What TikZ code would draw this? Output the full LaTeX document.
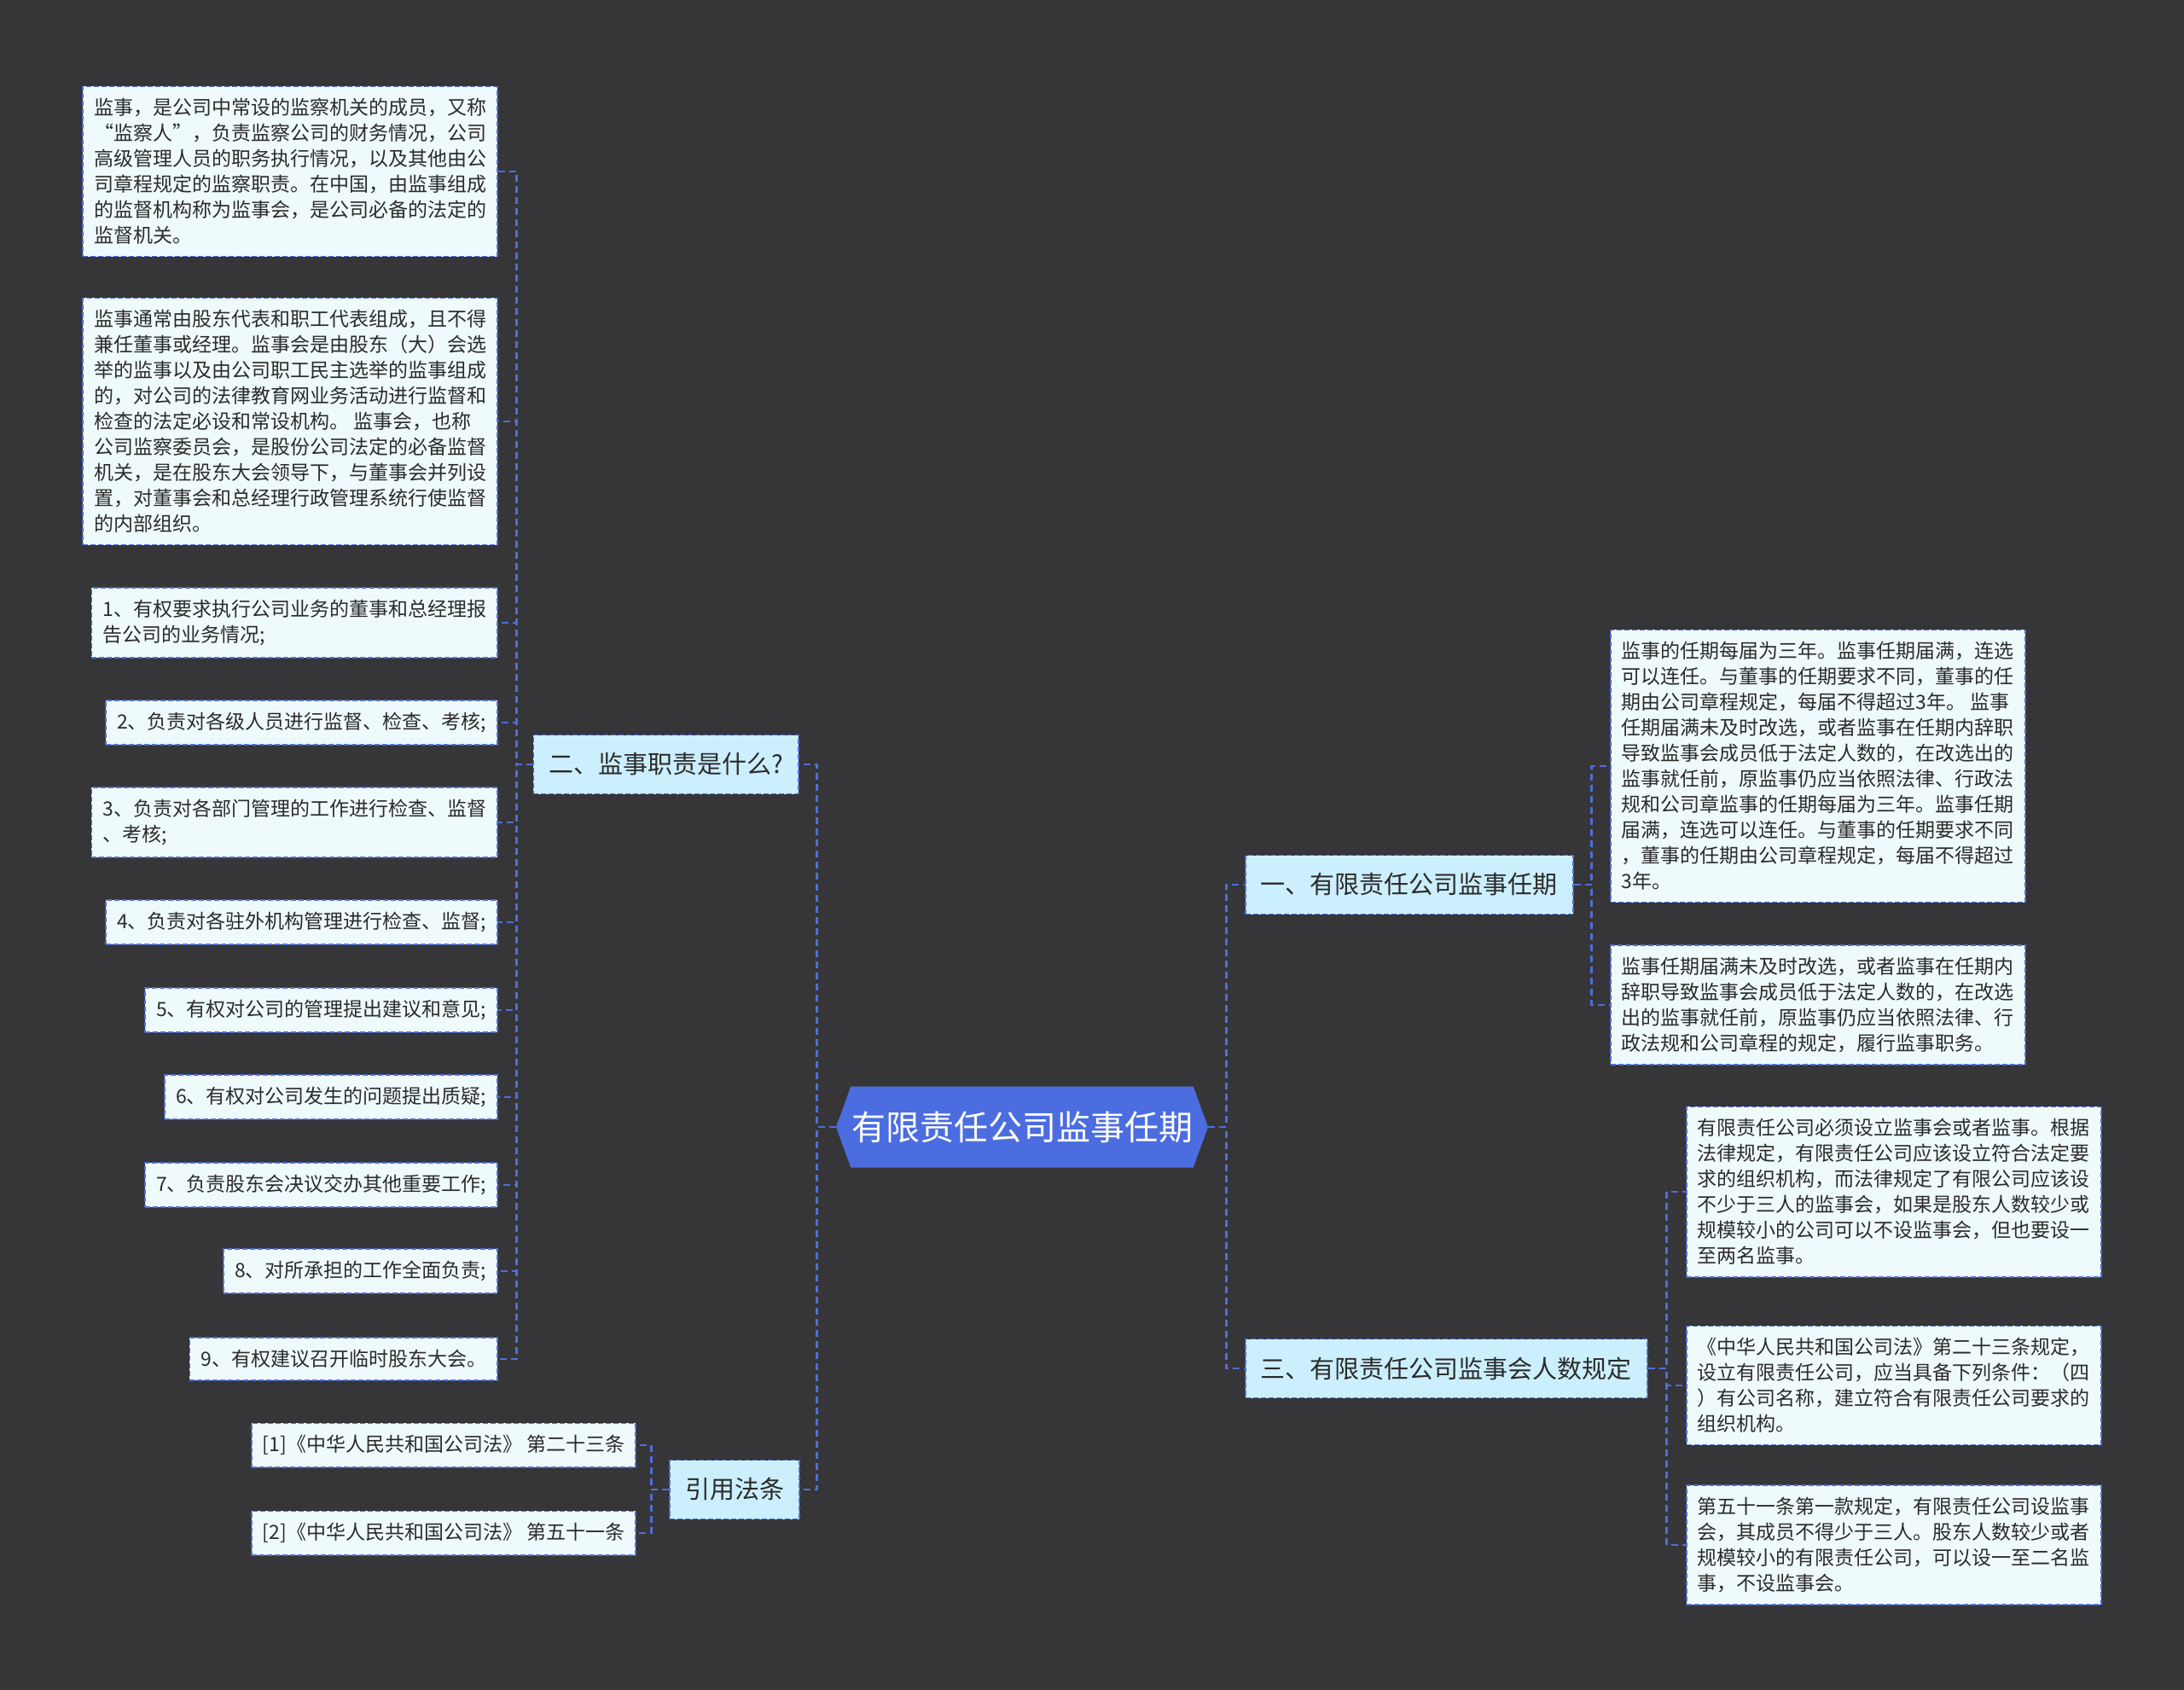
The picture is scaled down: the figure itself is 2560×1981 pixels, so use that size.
\documentclass[tikz,border=0pt]{standalone}
\usepackage{fontspec}
\setmainfont{Noto Sans CJK SC}
\usetikzlibrary{shapes.symbols}

\definecolor{bgdark}{HTML}{363538}
\definecolor{linkblue}{HTML}{4E6FD8}
\definecolor{rootblue}{HTML}{4B6DE0}
\definecolor{branchfill}{HTML}{CCEFFD}
\definecolor{leaffill}{HTML}{EFFAFD}
\definecolor{textdark}{HTML}{2B2B2B}

\begin{document}
\begin{tikzpicture}[
	x=0.5pt, y=-0.5pt,
	% Define styles
	rootbox/.style={shape=signal, signal to=west and east, signal pointer angle=140, fill=rootblue, text=white, minimum width=218pt, minimum height=47.5pt, inner sep=0pt, font=\fontsize{20pt}{23pt}\selectfont},
	branch/.style={rectangle, draw=linkblue, fill=branchfill, line width=0.8pt, dash pattern=on 3pt off 1.5pt, text=textdark, minimum height=34.5pt, inner xsep=9pt, font=\fontsize{14.5pt}{17pt}\selectfont},
	leaf/.style={rectangle, draw=linkblue, fill=leaffill, line width=0.8pt, dash pattern=on 3pt off 1.5pt, text=textdark, align=left, inner xsep=6.5pt, inner ysep=7pt, font=\fontsize{11.5pt}{15pt}\selectfont},
	link/.style={draw=linkblue, line width=1.2pt, dash pattern=on 4pt off 2.5pt}
	]
	
	% Canvas
	\fill[bgdark] (0,0) rectangle (2560,1981);
	\useasboundingbox (0,0) rectangle (2560,1981);
	
	% 1. Main Subject
	\node[rootbox] (root) at (1198,1321) {有限责任公司监事任期};
	
	% 2. Branches
	\node[branch, anchor=east] (duty) at (937,896) {二、监事职责是什么?};
	\node[branch, anchor=east] (cite) at (938,1746) {引用法条};
	\node[branch, anchor=west] (term) at (1459,1037) {一、有限责任公司监事任期};
	\node[branch, anchor=west] (count) at (1459,1604) {三、有限责任公司监事会人数规定};
	
	\draw[link] (root.west) -- ++(-22,0) |- (duty.east);
	\draw[link] (root.west) -- ++(-22,0) |- (cite.east);
	\draw[link] (root.east) -- ++(21,0) |- (term.west);
	\draw[link] (root.east) -- ++(21,0) |- (count.west);
	
	% 3. Duties of the supervisor
	\node[leaf, anchor=east] (def) at (584,201) {监事，是公司中常设的监察机关的成员，又称\\ “监察人”，负责监察公司的财务情况，公司\\高级管理人员的职务执行情况，以及其他由公\\司章程规定的监察职责。在中国，由监事组成\\的监督机构称为监事会，是公司必备的法定的\\监督机关。};
	\node[leaf, anchor=east] (board) at (584,494) {监事通常由股东代表和职工代表组成，且不得\\兼任董事或经理。监事会是由股东（大）会选\\举的监事以及由公司职工民主选举的监事组成\\的，对公司的法律教育网业务活动进行监督和\\检查的法定必设和常设机构。 监事会，也称\\公司监察委员会，是股份公司法定的必备监督\\机关，是在股东大会领导下，与董事会并列设\\置，对董事会和总经理行政管理系统行使监督\\的内部组织。};
	\node[leaf, anchor=east] (duty1) at (584,730) {1、有权要求执行公司业务的董事和总经理报\\告公司的业务情况;};
	\node[leaf, anchor=east] (duty2) at (584,847) {2、负责对各级人员进行监督、检查、考核;};
	\node[leaf, anchor=east] (duty3) at (584,964) {3、负责对各部门管理的工作进行检查、监督\\、考核;};
	\node[leaf, anchor=east] (duty4) at (584,1081) {4、负责对各驻外机构管理进行检查、监督;};
	\node[leaf, anchor=east] (duty5) at (584,1184) {5、有权对公司的管理提出建议和意见;};
	\node[leaf, anchor=east] (duty6) at (584,1286) {6、有权对公司发生的问题提出质疑;};
	\node[leaf, anchor=east] (duty7) at (584,1389) {7、负责股东会决议交办其他重要工作;};
	\node[leaf, anchor=east] (duty8) at (584,1490) {8、对所承担的工作全面负责;};
	\node[leaf, anchor=east] (duty9) at (584,1593) {9、有权建议召开临时股东大会。};
	
	\draw[link] (duty.west) -- ++(-19,0) |- (def.east);
	\draw[link] (duty.west) -- ++(-19,0) |- (board.east);
	\draw[link] (duty.west) -- ++(-19,0) |- (duty1.east);
	\draw[link] (duty.west) -- ++(-19,0) |- (duty2.east);
	\draw[link] (duty.west) -- ++(-19,0) |- (duty3.east);
	\draw[link] (duty.west) -- ++(-19,0) |- (duty4.east);
	\draw[link] (duty.west) -- ++(-19,0) |- (duty5.east);
	\draw[link] (duty.west) -- ++(-19,0) |- (duty6.east);
	\draw[link] (duty.west) -- ++(-19,0) |- (duty7.east);
	\draw[link] (duty.west) -- ++(-19,0) |- (duty8.east);
	\draw[link] (duty.west) -- ++(-19,0) |- (duty9.east);
	
	% 4. Cited articles
	\node[leaf, anchor=east] (law1) at (746,1694) {[1]《中华人民共和国公司法》 第二十三条};
	\node[leaf, anchor=east] (law2) at (746,1797) {[2]《中华人民共和国公司法》 第五十一条};
	
	\draw[link] (cite.west) -- ++(-21,0) |- (law1.east);
	\draw[link] (cite.west) -- ++(-21,0) |- (law2.east);
	
	% 5. Term of office
	\node[leaf, anchor=west] (term1) at (1887,898) {监事的任期每届为三年。监事任期届满，连选\\可以连任。与董事的任期要求不同，董事的任\\期由公司章程规定，每届不得超过3年。 监事\\任期届满未及时改选，或者监事在任期内辞职\\导致监事会成员低于法定人数的，在改选出的\\监事就任前，原监事仍应当依照法律、行政法\\规和公司章监事的任期每届为三年。监事任期\\届满，连选可以连任。与董事的任期要求不同\\，董事的任期由公司章程规定，每届不得超过\\3年。};
	\node[leaf, anchor=west] (term2) at (1887,1178) {监事任期届满未及时改选，或者监事在任期内\\辞职导致监事会成员低于法定人数的，在改选\\出的监事就任前，原监事仍应当依照法律、行\\政法规和公司章程的规定，履行监事职务。};
	
	\draw[link] (term.east) -- ++(21,0) |- (term1.west);
	\draw[link] (term.east) -- ++(21,0) |- (term2.west);
	
	% 6. Number of members
	\node[leaf, anchor=west] (count1) at (1976,1397) {有限责任公司必须设立监事会或者监事。根据\\法律规定，有限责任公司应该设立符合法定要\\求的组织机构，而法律规定了有限公司应该设\\不少于三人的监事会，如果是股东人数较少或\\规模较小的公司可以不设监事会，但也要设一\\至两名监事。};
	\node[leaf, anchor=west] (count2) at (1976,1624) {《中华人民共和国公司法》第二十三条规定，\\设立有限责任公司，应当具备下列条件：（四\\）有公司名称，建立符合有限责任公司要求的\\组织机构。};
	\node[leaf, anchor=west] (count3) at (1976,1811) {第五十一条第一款规定，有限责任公司设监事\\会，其成员不得少于三人。股东人数较少或者\\规模较小的有限责任公司，可以设一至二名监\\事，不设监事会。};
	
	\draw[link] (count.east) -- ++(22,0) |- (count1.west);
	\draw[link] (count.east) -- ++(22,0) |- (count2.west);
	\draw[link] (count.east) -- ++(22,0) |- (count3.west);
\end{tikzpicture}
\end{document}
